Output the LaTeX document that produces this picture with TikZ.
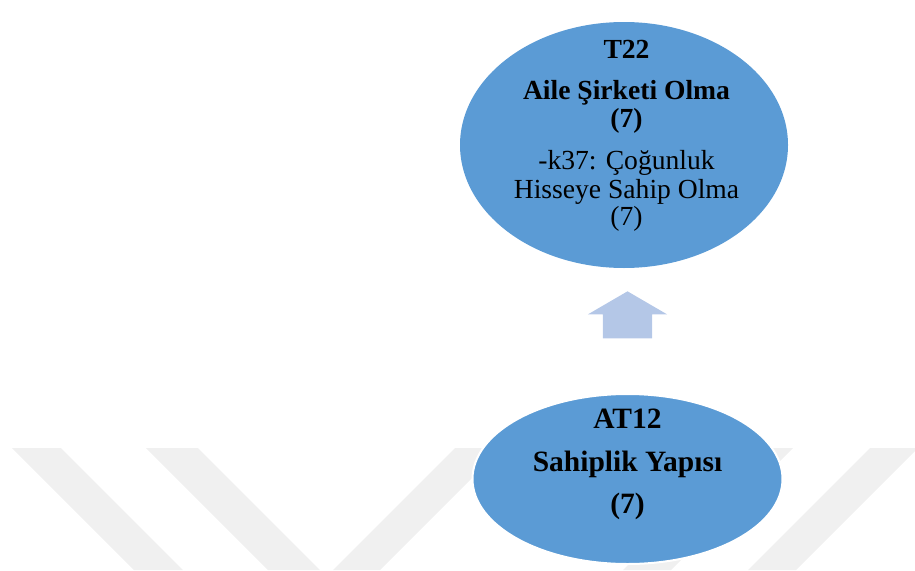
\documentclass[tikz,border=0pt]{standalone}
\usepackage{fontspec}
\setmainfont{Liberation Serif}
\usetikzlibrary{shapes.geometric,shapes.arrows}
\definecolor{nodeblue}{HTML}{5B9BD5}
\definecolor{arrowblue}{HTML}{B4C7E7}
\definecolor{wmgray}{HTML}{F0F0F0}
\tikzset{
  bubble/.style={ellipse, fill=nodeblue, inner sep=0pt},
  wm/.style={fill=wmgray, draw=none},
  upblock/.style={single arrow, rotate=90, fill=arrowblue, draw=none,
    inner xsep=0pt, inner ysep=24.5pt, minimum height=47pt,
    single arrow head extend=15pt, single arrow tip angle=119.6},
  label/.style={anchor=north, align=center, inner sep=0pt, text=black}
}
\begin{document}
\begin{tikzpicture}[x=1pt,y=-1pt]
\useasboundingbox (0,0) rectangle (915,570);
% watermark
\begin{scope}
\clip (0,0) rectangle (915,570);
\fill[wm] (12,448) -- (61,448) -- (183,570) -- (134,570) -- cycle;
\fill[wm] (146,448) -- (198,448) -- (320,570) -- (268,570) -- cycle;
\fill[wm] (455,448) -- (502,448) -- (380,570) -- (333,570) -- cycle;
\fill[wm] (745,448) -- (793,448) -- (671,570) -- (623,570) -- cycle;
\fill[wm] (870,448) -- (918,448) -- (796,570) -- (748,570) -- cycle;
\end{scope}
% ellipses
\node[bubble, minimum width=328pt, minimum height=246pt] (t22) at (624,145) {};
\node[bubble, draw=white, line width=2pt, minimum width=310pt, minimum height=170pt] (at12) at (627.5,479) {};
% arrow
\node[upblock] (arr) at (627.5,322) {};
% texts
\node[label, font=\fontsize{27.6}{27.5}\selectfont] (t22text) at (626.5,40.5)
  {\textbf{T22}\\[13.5pt]\textbf{Aile Şirketi Olma}\\\textbf{(7)}\\[14.5pt]-k37: Çoğunluk\\[1.5pt]Hisseye Sahip Olma\\(7)};
\node[label, font=\bfseries\fontsize{29.5}{42.5}\selectfont] (at12text) at (627.5,409)
  {AT12\\Sahiplik Yapısı\\(7)};
\end{tikzpicture}
\end{document}
